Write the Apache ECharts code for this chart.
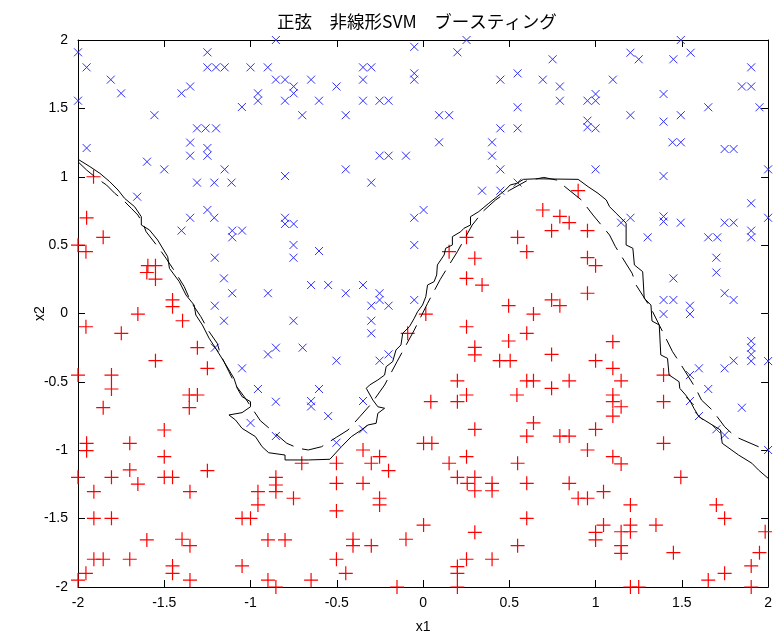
<!DOCTYPE html>
<html>
<head>
<meta charset="utf-8">
<script src="https://cdn.jsdelivr.net/npm/echarts@6/dist/echarts.min.js"></script>
<style>
html,body{margin:0;padding:0;background:#fff;}
#chart{width:775px;height:642px;}
</style>
</head>
<body>
<div id="chart"></div>
<script>
const titleText = '正弦　非線形SVM　ブースティング';
const xLabelName = 'x1';
const yLabelName = 'x2';
const axisMin = -2, axisMax = 2, axisStep = 0.5;

// class "×" (blue)
const bluePoints = [
[-2.0,1.91],[-1.25,1.91],[-1.95,1.80],[-1.25,1.80],[-1.20,1.80],[-1.15,1.80],[-1.0,1.80],[-0.90,1.80],[-0.853,2.0],[-1.81,1.71],
[-1.75,1.61],[-1.35,1.66],[-1.40,1.61],[-0.853,1.71],[-0.80,1.71],[-0.75,1.66],[-0.75,1.61],[-0.957,1.61],[-0.957,1.556],[-0.80,1.556],
[-2.0,1.556],[-1.05,1.51],[-1.557,1.45],[-0.70,1.45],[-1.31,1.354],[-1.26,1.354],[-1.20,1.354],[-1.95,1.21],[-1.35,1.25],[-1.35,1.154],
[-1.25,1.21],[-1.25,1.154],[-1.60,1.11],[-1.50,1.054],[-1.15,1.054],[-1.31,0.957],[-1.21,0.957],[-1.11,0.957],[-0.80,1.005],[-1.657,0.854],
[-1.35,0.70],[-1.25,0.757],[-1.21,0.70],[-0.80,0.70],[-0.80,0.655],[-0.75,0.655],
[-0.051,1.95],[0.252,2.0],[0.199,1.91],[-0.348,1.80],[-0.30,1.80],[-0.649,1.71],[-0.502,1.66],[-0.348,1.71],[-0.051,1.756],[-0.051,1.71],
[0.448,1.71],[0.548,1.756],[-0.603,1.556],[-0.348,1.556],[-0.252,1.556],[-0.20,1.556],[-0.448,1.45],[0.093,1.45],[0.151,1.45],[0.548,1.508],
[0.448,1.354],[0.548,1.354],[0.093,1.252],[0.40,1.252],[0.40,1.154],[-0.252,1.154],[-0.20,1.154],[-0.099,1.154],[-0.448,1.054],[0.448,1.054],
[-0.30,0.957],[0.342,0.898],[0.448,0.898],[0.548,0.957],[-0.051,0.70],[0.003,0.757],
[1.494,2.0],[0.751,1.859],[1.202,1.907],[1.25,1.859],[1.451,1.859],[1.551,1.907],[1.902,1.80],[0.694,1.71],[0.793,1.66],[1.10,1.71],
[1.848,1.66],[1.902,1.66],[0.793,1.556],[0.953,1.556],[1.0,1.605],[1.0,1.556],[1.394,1.605],[1.653,1.508],[1.95,1.508],[1.202,1.45],
[1.394,1.403],[1.494,1.45],[0.953,1.41],[0.953,1.362],[1.0,1.354],[1.446,1.252],[1.494,1.252],[1.748,1.203],[1.80,1.203],[1.0,1.054],
[1.394,1.005],[2.0,1.054],[1.902,0.806],[1.202,0.70],[1.148,0.664],[1.394,0.71],[1.394,0.672],[1.494,0.664],[1.748,0.664],[1.80,0.664],[2.0,0.70],
[-1.40,0.606],[-1.106,0.606],[-1.049,0.606],[-1.106,0.557],[-0.751,0.501],[-0.751,0.408],[-1.207,0.408],[-1.154,0.257],[-1.106,0.148],[-0.899,0.148],
[-1.207,0.057],[-1.154,-0.053],[-0.751,-0.053],[-1.207,-0.25],[-0.899,-0.299],[-0.853,-0.25],[-0.698,-0.25],[-1.049,-0.401],[-0.957,-0.552],[-0.853,-0.645],
[-0.051,0.501],[-0.603,0.457],[-0.649,0.208],[-0.55,0.208],[-0.448,0.148],[-0.348,0.208],[-0.252,0.148],[-0.252,0.099],[-0.30,0.057],[-0.20,0.057],
[-0.051,0.099],[-0.30,-0.053],[-0.30,-0.145],[-0.502,-0.345],[-0.252,-0.345],[-0.20,-0.299],[-0.603,-0.552],[-0.649,-0.64],[-0.649,-0.68],[-0.348,-0.64],
[1.302,0.557],[1.653,0.557],[1.705,0.557],[1.902,0.606],[1.902,0.557],[1.70,0.408],[1.70,0.30],[1.451,0.257],[1.394,0.099],[1.451,0.099],
[1.394,-0.004],[1.547,0.057],[1.547,-0.004],[1.748,0.148],[1.80,0.099],[1.902,-0.201],[1.902,-0.25],[1.902,-0.299],[1.902,-0.348],[2.0,-0.348],
[1.748,-0.401],[1.80,-0.345],[1.599,-0.401],[1.547,-0.45],[1.653,-0.552],[1.547,-0.64],[1.848,-0.689],
[-1.0,-0.80],[-0.853,-0.896],[-0.55,-0.75],[-0.348,-0.847],[-0.502,-0.945],[1.599,-0.75],[1.70,-0.847],[1.748,-0.889],[2.0,-0.998]
];

// class "+" (red)
const redPoints = [
[-1.91,1.0],[-1.95,0.70],[0.899,0.898],[0.694,0.757],[0.793,0.71],[0.847,0.664],[-2.0,0.5],
[-1.854,0.557],[-1.954,0.452],[-1.595,0.35],[-1.551,0.35],[-1.601,0.30],[-1.551,0.252],[-1.452,0.099],[-1.452,0.05],[-1.653,-0.004],[-1.394,-0.053],
[-1.954,-0.097],[-1.749,-0.145],[-1.308,-0.25],[-1.551,-0.345],[-1.25,-0.401],[-1.806,-0.45],[-1.806,-0.552],[-2.0,-0.45],[-1.355,-0.596],[-1.308,-0.596],
[-1.355,-0.689],[-1.854,-0.689],
[0.252,0.557],[0.548,0.557],[0.601,0.452],[0.151,0.452],[0.30,0.404],[0.252,0.257],[0.342,0.208],[0.496,0.057],[0.64,-0.004],[0.016,-0.004],
[0.252,-0.097],[-0.089,-0.145],[0.601,-0.145],[0.496,-0.201],[0.30,-0.247],[0.30,-0.303],[0.444,-0.345],[0.505,-0.345],[0.199,-0.492],[0.601,-0.492],
[0.64,-0.492],[0.252,-0.596],[0.199,-0.645],[0.544,-0.596],[0.045,-0.645],
[0.745,0.606],[0.953,0.606],[0.953,0.408],[1.0,0.35],[0.953,0.148],[0.745,0.099],[0.793,0.057],[1.10,-0.206],[0.745,-0.299],[1.0,-0.345],
[1.10,-0.401],[1.394,-0.45],[0.847,-0.492],[0.745,-0.547],[1.148,-0.492],[1.10,-0.596],[1.10,-0.645],[1.148,-0.682],[1.394,-0.645],
[-1.50,-0.852],[-1.95,-0.949],[-1.95,-1.003],[-1.70,-0.949],[-1.50,-1.047],[-1.70,-1.144],[-1.806,-1.198],[-1.653,-1.247],[-1.50,-1.198],[-1.452,-1.198],
[-1.25,-1.149],[-2.0,-1.198],[-1.908,-1.303],[-1.351,-1.303],[-1.908,-1.498],[-1.806,-1.498],[-1.601,-1.656],[-1.397,-1.651],[-1.351,-1.698],[-1.908,-1.797],
[-1.854,-1.797],[-1.70,-1.797],[-1.452,-1.846],[-1.452,-1.90],[-1.954,-1.90],[-2.0,-1.949],[-1.351,-1.949],[-0.957,-1.303],[-0.957,-1.40],[-0.853,-1.198],
[-0.853,-1.254],[-0.853,-1.303],[-0.751,-1.351],[-1.049,-1.498],[-1.0,-1.498],[-0.899,-1.656],[-0.80,-1.656],[-1.049,-1.846],[-0.899,-1.949],[-0.853,-2.0],
[-0.703,-1.095],
[0.30,-0.847],[0.64,-0.80],[0.601,-0.896],[0.003,-0.949],[0.051,-0.949],[-0.348,-0.998],[-0.252,-1.047],[-0.30,-1.095],[-0.20,-1.149],[-0.502,-1.095],
[0.252,-1.047],[0.151,-1.095],[0.548,-1.095],[0.199,-1.198],[0.256,-1.242],[0.30,-1.198],[0.30,-1.296],[0.40,-1.242],[0.40,-1.296],[-0.502,-1.242],
[-0.348,-1.242],[0.601,-1.242],[-0.252,-1.351],[-0.252,-1.40],[-0.502,-1.444],[0.003,-1.547],[0.601,-1.498],[0.30,-1.60],[-0.099,-1.651],[-0.406,-1.651],
[-0.406,-1.698],[-0.30,-1.698],[0.548,-1.698],[-0.502,-1.797],[0.252,-1.797],[0.40,-1.797],[0.199,-1.851],[0.199,-1.90],[-0.448,-1.90],[-0.649,-1.949],
[-0.151,-2.0],[0.199,-2.0],
[1.10,-0.75],[0.793,-0.896],[0.847,-0.896],[1.0,-0.847],[0.953,-0.998],[1.394,-0.949],[1.10,-1.047],[1.148,-1.10],[1.494,-1.198],[0.847,-1.242],
[0.899,-1.351],[0.953,-1.351],[1.046,-1.303],[1.202,-1.40],[1.70,-1.40],[1.748,-1.498],[1.046,-1.547],[1.0,-1.60],[1.0,-1.656],[1.148,-1.596],
[1.202,-1.547],[1.202,-1.596],[1.35,-1.547],[1.148,-1.698],[1.148,-1.754],[1.451,-1.749],[1.95,-1.749],[1.902,-1.846],[1.748,-1.90],[1.653,-1.949],
[1.983,-1.596],[1.202,-2.0],[1.25,-2.0],[1.902,-2.0]
];

// solid boundary (jagged)
const solidBoundary = [
[-2.0,1.128],[-1.931,1.074],[-1.873,1.025],[-1.816,0.964],[-1.768,0.903],[-1.73,0.842],[-1.672,0.781],[-1.633,0.708],[-1.633,0.647],[-1.586,0.611],
[-1.538,0.537],[-1.48,0.415],[-1.47,0.33],[-1.413,0.233],[-1.374,0.135],[-1.327,0.062],[-1.317,-0.011],[-1.279,-0.084],[-1.24,-0.181],[-1.202,-0.255],
[-1.154,-0.352],[-1.096,-0.474],[-1.077,-0.547],[-1.049,-0.608],[-1.0,-0.645],[-1.0,-0.682],[-1.049,-0.725],[-1.125,-0.742],[-1.087,-0.779],[-1.049,-0.84],
[-0.972,-0.90],[-0.933,-0.974],[-0.895,-1.018],[-0.80,-1.035],[-0.80,-1.071],[-0.665,-1.071],[-0.54,-1.066],[-0.473,-0.974],[-0.416,-0.901],[-0.358,-0.852],
[-0.319,-0.815],[-0.272,-0.803],[-0.262,-0.730],[-0.223,-0.693],[-0.262,-0.682],[-0.291,-0.633],[-0.329,-0.547],[-0.310,-0.523],[-0.262,-0.486],[-0.223,-0.45],
[-0.214,-0.389],[-0.176,-0.352],[-0.157,-0.267],[-0.128,-0.23],[-0.118,-0.145],[-0.079,-0.096],[-0.051,-0.035],[-0.032,0.013],[-0.003,0.062],[0.016,0.123],
[0.026,0.208],[0.064,0.233],[0.079,0.282],[0.083,0.355],[0.122,0.428],[0.131,0.477],[0.170,0.501],[0.170,0.562],[0.218,0.598],[0.237,0.623],
[0.275,0.647],[0.275,0.708],[0.323,0.745],[0.381,0.806],[0.429,0.854],[0.477,0.903],[0.505,0.94],[0.544,0.952],[0.582,0.981],[0.659,0.985],
[0.899,0.981],[0.957,0.927],[1.014,0.879],[1.062,0.83],[1.081,0.781],[1.119,0.733],[1.177,0.66],[1.177,0.501],[1.216,0.477],[1.225,0.355],
[1.273,0.306],[1.282,0.111],[1.321,0.062],[1.327,-0.055],[1.369,-0.084],[1.378,-0.303],[1.417,-0.328],[1.426,-0.45],[1.455,-0.474],[1.484,-0.499],
[1.488,-0.547],[1.522,-0.596],[1.55,-0.645],[1.57,-0.693],[1.599,-0.755],[1.724,-0.852],[1.734,-0.949],[1.829,-1.035],[1.906,-1.095],[1.944,-1.144],[2.0,-1.205]
];

// dashed boundary
const dashedBoundary = [
[-2.0,1.11],[-1.95,1.049],[-1.892,0.989],[-1.835,0.94],[-1.787,0.879],[-1.739,0.83],[-1.691,0.769],[-1.653,0.72],[-1.624,0.66],[-1.605,0.598],
[-1.538,0.489],[-1.49,0.404],[-1.432,0.294],[-1.384,0.196],[-1.346,0.086],[-1.288,-0.023],[-1.24,-0.133],[-1.193,-0.218],[-1.173,-0.303],[-1.125,-0.426],
[-1.087,-0.523],[-1.03,-0.62],[-0.943,-0.784],[-0.79,-0.949],[-0.722,-0.986],[-0.665,-0.998],[-0.588,-0.974],[-0.502,-0.905],[-0.435,-0.852],[-0.367,-0.755],
[-0.3,-0.66],[-0.223,-0.523],[-0.15,-0.35],[-0.051,-0.121],[0.026,0.074],[0.1,0.25],[0.151,0.355],[0.199,0.452],[0.285,0.647],[0.35,0.75],
[0.42,0.83],[0.5,0.9],[0.6,0.97],[0.7,0.995],[0.774,0.976],[0.918,0.83],[0.985,0.72],[1.081,0.574],[1.115,0.489],[1.212,0.294],
[1.235,0.208],[1.321,0.038],[1.446,-0.279],[1.484,-0.352],[1.58,-0.547],[1.614,-0.633],[1.676,-0.706],[1.748,-0.828],[1.81,-0.901],[1.944,-0.974],[2.0,-0.998]
];

const chart = echarts.init(document.getElementById('chart'));
const tickFont = {fontFamily: 'Liberation Sans, Arial, sans-serif', fontSize: 14, color: '#000'};
const baseAxis = {
  min: axisMin, max: axisMax, interval: axisStep,
  axisLine: {show: true, onZero: false, lineStyle: {color: '#000', width: 1}},
  axisTick: {show: true, inside: true, length: 7, lineStyle: {color: '#000'}},
  splitLine: {show: false}
};
chart.setOption({
  animation: false,
  backgroundColor: '#fff',
  title: {
    text: titleText, left: 272, top: 8,
    textStyle: {fontFamily: 'Noto Sans CJK JP', fontSize: 17.5, fontWeight: 'normal', color: '#000'}
  },
  grid: {left: 78, top: 40, right: 2, bottom: 55, show: false},
  xAxis: [
    Object.assign({}, baseAxis, {type: 'value', position: 'bottom',
      axisLabel: Object.assign({margin: 9}, tickFont),
      name: xLabelName, nameLocation: 'middle', nameGap: 33, nameMoveOverlap: false,
      nameTextStyle: Object.assign({}, tickFont)}),
    Object.assign({}, baseAxis, {type: 'value', position: 'top', axisLabel: {show: false}})
  ],
  yAxis: [
    Object.assign({}, baseAxis, {type: 'value', position: 'left',
      axisLabel: Object.assign({margin: 10}, tickFont),
      name: yLabelName, nameLocation: 'middle', nameGap: 31, nameMoveOverlap: false,
      nameTextStyle: Object.assign({}, tickFont)}),
    Object.assign({}, baseAxis, {type: 'value', position: 'right', axisLabel: {show: false}})
  ],
  series: [
    {
      type: 'scatter', data: bluePoints,
      symbol: 'path://M0,0L10,10M10,0L0,10', symbolSize: 8,
      itemStyle: {color: 'none', borderColor: '#2f2fff', borderWidth: 1, opacity: 1},
      silent: true, z: 3
    },
    {
      type: 'scatter', data: redPoints,
      symbol: 'path://M5,0L5,10M0,5L10,5', symbolSize: 14,
      itemStyle: {color: 'none', borderColor: '#ff0000', borderWidth: 1.2, opacity: 1},
      silent: true, z: 3
    },
    {
      type: 'line', data: solidBoundary, showSymbol: false, symbol: 'none',
      lineStyle: {color: '#000', width: 1, type: 'solid'}, z: 4, silent: true
    },
    {
      type: 'line', data: dashedBoundary, showSymbol: false, symbol: 'none',
      lineStyle: {color: '#000', width: 1, type: [22, 9]}, z: 4, silent: true
    }
  ]
});
</script>
</body>
</html>
